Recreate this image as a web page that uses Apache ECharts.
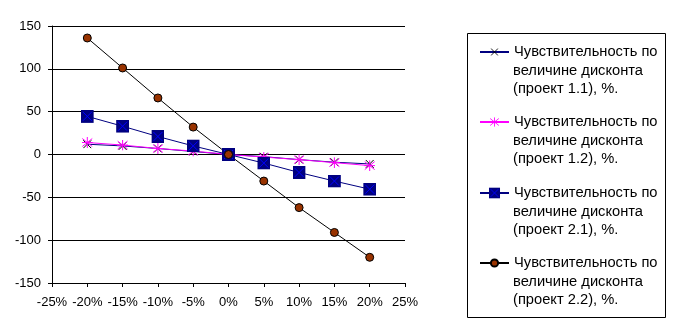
<!DOCTYPE html>
<html><head><meta charset="utf-8">
<script src="https://cdn.jsdelivr.net/npm/echarts@6/dist/echarts.min.js"></script>
<style>html,body{margin:0;padding:0;background:#fff}#c{width:674px;height:329px}</style>
</head><body><div id="c"></div>
<script>
var discounts = [-20, -15, -10, -5, 0, 5, 10, 15, 20];
var names = [
  "Чувствительность по\nвеличине дисконта\n(проект 1.1), %.",
  "Чувствительность по\nвеличине дисконта\n(проект 1.2), %.",
  "Чувствительность по\nвеличине дисконта\n(проект 2.1), %.",
  "Чувствительность по\nвеличине дисконта\n(проект 2.2), %."
];
var p11 = [12, 10, 7, 3.5, 0, -2.5, -6, -9, -11];
var p12 = [14, 11, 7, 4, 0, -3, -6, -9.5, -13];
var p21 = [44.5, 33, 21, 10, 0, -10, -21, -31, -40.5];
var p22 = [136, 101, 66, 32, 0, -31, -62, -91, -120];

function svg(s){ return 'image://data:image/svg+xml;charset=utf-8,' + encodeURIComponent(s); }
var symX = svg("<svg xmlns='http://www.w3.org/2000/svg' width='9' height='9'><path d='M0.5,0.5L8.5,8.5M8.5,0.5L0.5,8.5' stroke='#000' stroke-width='1' fill='none'/></svg>");
var symStar = svg("<svg xmlns='http://www.w3.org/2000/svg' width='11' height='11'><path d='M0.5,1.5L10.5,9.5M10.5,1.5L0.5,9.5M5.5,0L5.5,11M0,5.5L11,5.5' stroke='#FF00FF' stroke-width='1' fill='none'/></svg>");
var symSq = svg("<svg xmlns='http://www.w3.org/2000/svg' width='13' height='13'><rect x='0' y='0' width='13' height='13' fill='#000080'/><path d='M2,2L11,11M11,2L2,11' stroke='#0000FF' stroke-width='1' fill='none'/></svg>");

function pairs(v){ return discounts.map(function(d,i){ return [d, v[i]]; }); }

var font = 'Liberation Sans, Arial, sans-serif';
var legFont = 14.7, legLH = 18.5;
var legendTops = [52, 122, 193, 263];
var legendIconH = [10, 12, 14, 9];
var legends = names.map(function(n, i){
  return {
    data: [n], orient: 'vertical', left: 479, top: legendTops[i] - legLH / 2,
    padding: 0, itemWidth: 29, itemHeight: legendIconH[i], itemGap: 0, selectedMode: false,
    formatter: function(name){ return name.split('\n')[0]; },
    textStyle: { fontFamily: font, fontSize: legFont, color: '#000', lineHeight: legLH }
  };
});
var legendRest = names.map(function(n, i){
  return { type: 'text', left: 513, top: legendTops[i] + legLH / 2,
    style: { text: n.split('\n').slice(1).join('\n'), font: legFont + 'px ' + font, fill: '#000', lineHeight: legLH } };
});

var chart = echarts.init(document.getElementById('c'));
chart.setOption({
  animation: false,
  backgroundColor: '#fff',
  grid: { left: 52, right: 269, top: 26, bottom: 46 },
  legend: legends,
  graphic: [{ type: 'rect', shape: { x: 467.5, y: 33.5, width: 198, height: 284 },
    style: { fill: 'none', stroke: '#000', lineWidth: 1 } }].concat(legendRest),
  xAxis: {
    type: 'value', min: -25, max: 25, interval: 5,
    axisLine: { onZero: false, lineStyle: { color: '#000', width: 1 } },
    axisTick: { show: true, length: 4, lineStyle: { color: '#000' } },
    splitLine: { show: false },
    axisLabel: { formatter: function(v){ return v + '%'; }, color: '#000', fontFamily: font, fontSize: 13, margin: 13 }
  },
  yAxis: {
    type: 'value', min: -150, max: 150, interval: 50,
    axisLine: { show: true, onZero: false, lineStyle: { color: '#000', width: 1 } },
    axisTick: { show: true, length: 4, lineStyle: { color: '#000' } },
    splitLine: { show: true, lineStyle: { color: '#000', width: 1 } },
    axisLabel: { color: '#000', fontFamily: font, fontSize: 13, margin: 11 }
  },
  series: [
    { name: names[0], type: 'line', data: pairs(p11), symbol: symX, symbolSize: 9,
      lineStyle: { color: '#000080', width: 1 }, itemStyle: { color: '#000080' } },
    { name: names[1], type: 'line', data: pairs(p12), symbol: symStar, symbolSize: 11,
      lineStyle: { color: '#FF00FF', width: 1 }, itemStyle: { color: '#FF00FF' } },
    { name: names[2], type: 'line', data: pairs(p21), symbol: symSq, symbolSize: 13,
      lineStyle: { color: '#000080', width: 1 }, itemStyle: { color: '#000080' } },
    { name: names[3], type: 'line', data: pairs(p22), symbol: 'circle', symbolSize: 8,
      lineStyle: { color: '#000', width: 1 }, itemStyle: { color: '#993300', borderColor: '#000', borderWidth: 1 } }
  ]
});
</script></body></html>
